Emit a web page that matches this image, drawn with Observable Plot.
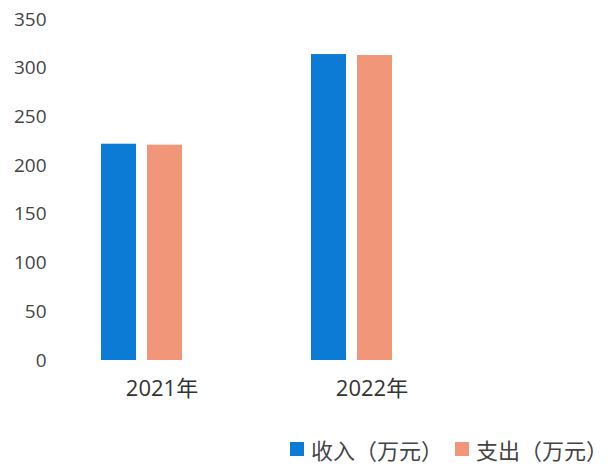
<!DOCTYPE html>
<html>
<head>
<meta charset="utf-8">
<script src="https://cdn.jsdelivr.net/npm/d3@7"></script>
<script src="https://cdn.jsdelivr.net/npm/@observablehq/plot@0.6"></script>
<style>
  html, body { margin: 0; padding: 0; background: #fff; }
  #wrap { position: relative; width: 612px; height: 468px; overflow: hidden; }
  #legend { position: absolute; left: 290px; top: 433px; display: flex; align-items: center;
    font-family: "Noto Sans CJK SC", "Open Sans", sans-serif; font-size: 22px; color: #444; white-space: nowrap; }
  .sw { display: inline-block; width: 14px; height: 14px; margin-right: 7px; }
  .item { display: flex; align-items: center; margin-right: 12px; }
</style>
</head>
<body>
<div id="wrap">
  <div id="chart"></div>
  <div id="legend"></div>
</div>
<script>
const years = ["2021年", "2022年"];
const seriesNames = ["收入（万元）", "支出（万元）"];
const income = [222, 314];
const expense = [221, 313];
const seriesColors = ["#0b7bd5", "#f2967a"];
const yTicks = [0, 50, 100, 150, 200, 250, 300, 350];

const data = [];
years.forEach((yr, i) => {
  data.push({year: yr, series: seriesNames[0], value: income[i]});
  data.push({year: yr, series: seriesNames[1], value: expense[i]});
});

const chart = Plot.plot({
  width: 612,
  height: 425,
  marginTop: 19,
  marginBottom: 65,
  marginLeft: 55,
  marginRight: 174,
  style: {fontFamily: "'Open Sans', 'Noto Sans CJK SC', sans-serif", color: "#444", background: "#fff"},
  fx: {domain: years, paddingInner: 0.3, paddingOuter: 0.0576, label: null, axis: null},
  x: {domain: seriesNames, paddingInner: 0.234, paddingOuter: 0.688, axis: null},
  y: {domain: [0, 350], axis: null},
  color: {domain: seriesNames, range: seriesColors},
  marks: [
    Plot.barY(data, {fx: "year", x: "series", y: "value", fill: "series"}),
    Plot.axisY({ticks: yTicks, tickSize: 0, tickPadding: 22, fontSize: 19, label: null, fill: "#444"}),
    Plot.axisFx({anchor: "bottom", tickSize: 0, tickPadding: 20, fontSize: 22, dx: 20, label: null, fill: "#333"})
  ]
});
document.getElementById("chart").appendChild(chart);

const legend = document.getElementById("legend");
seriesNames.forEach((name, i) => {
  const item = document.createElement("span");
  item.className = "item";
  const sw = document.createElement("span");
  sw.className = "sw";
  sw.style.background = seriesColors[i];
  item.appendChild(sw);
  item.appendChild(document.createTextNode(name));
  legend.appendChild(item);
});
</script>
</body>
</html>
